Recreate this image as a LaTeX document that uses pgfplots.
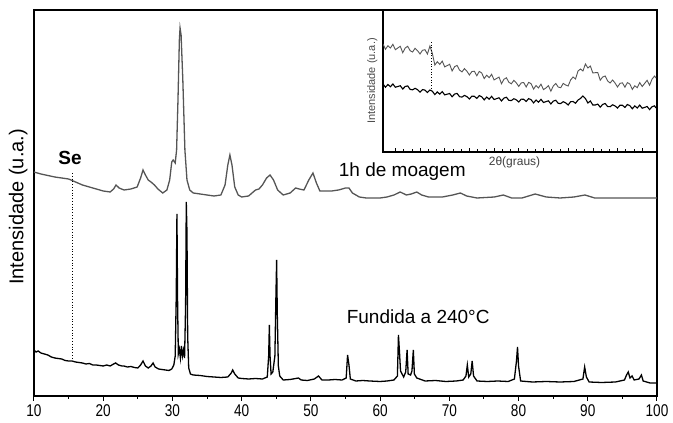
\documentclass[border=0pt]{standalone}
\usepackage{pgfplots}
\pgfplotsset{compat=1.18}
\usepackage{fontspec}
\setmainfont{Liberation Sans}
\newfontfamily\tickfont[FakeStretch=0.8]{Liberation Sans}
\definecolor{topgray}{HTML}{555555}
\begin{document}
\begin{tikzpicture}
\path[use as bounding box] (-34pt,-27pt) rectangle (639pt,396pt);
\begin{axis}[
  at={(0pt,0pt)}, anchor=south west,
  scale only axis, width=623pt, height=386pt,
  xmin=10, xmax=100, ymin=0, ymax=386,
  axis line style={line width=1.1pt},
  xtick={10,20,...,100}, minor tick num=1,
  xtick pos=bottom, tick align=outside,
  major tick length=5pt, minor tick length=3pt,
  every tick/.style={black, line width=1pt},
  ytick=\empty,
  xticklabel style={font=\tickfont\fontsize{17}{19}\selectfont, yshift=0pt},
  /pgf/number format/assume math mode=true,
  ylabel={Intensidade (u.a.)},
  ylabel style={font=\fontsize{20}{22}\selectfont, at={(axis description cs:0,0.49)}, anchor=south, yshift=3pt},
  clip=false,
]
% 1h de moagem (gray)
\addplot[topgray, line width=1.3pt] coordinates {
(10.0,224) (11.0,222) (12.0,220.5) (13.0,219) (14.0,218) (15.0,217) (16.0,214) (17.0,211) (18.0,209) (19.0,207)
(20.0,205) (21.0,204) (21.5,207) (21.85,211) (22.3,208) (23.0,206) (24.0,207) (24.9,209) (25.4,218) (25.75,226)
(26.1,221) (26.5,216) (26.9,214) (27.4,211) (27.9,207) (28.6,203) (29.2,206) (29.6,216) (29.9,234) (30.1,236)
(30.4,233) (30.6,246) (30.8,296) (31.0,356) (31.1,368) (31.25,361) (31.5,316) (31.8,246) (32.1,216) (32.5,206)
(33.0,203) (34.0,202) (35.0,201) (36.0,200) (37.0,201) (37.6,211) (38.0,231) (38.3,241) (38.6,231) (39.0,209)
(39.5,201) (40.0,199) (41.0,200) (42.0,206) (42.5,207) (43.0,211) (43.6,218) (44.1,221) (44.6,216) (45.2,206)
(46.0,201) (47.0,203) (47.8,208) (48.3,207) (49.0,206) (49.7,216) (50.3,223) (50.8,213) (51.3,205) (52.0,205)
(53.0,205) (54.0,206) (55.0,208) (55.5,208) (56.0,203) (57.0,199) (58.0,198) (60.0,198) (61.0,199) (62.0,201)
(62.9,204) (63.8,201) (64.5,202) (65.3,204) (66.0,201) (67.0,199) (69.0,199) (70.5,201) (71.6,203) (72.5,200)
(74.0,198) (76.5,199) (77.8,201) (79.0,198) (80.5,198) (82.4,202) (84.0,199) (86.0,198) (88.0,199) (89.6,201)
(91.0,198) (94.0,198) (97.0,198) (100.0,198)
};
% Fundida a 240 C (black)
\addplot[black, line width=1.3pt] coordinates {
(10.0,46) (10.3,44) (10.6,45) (11.0,43) (11.5,42) (12.0,41) (12.5,39) (13.0,38) (13.5,37.5) (14.0,37)
(14.5,35.5) (15.0,35) (15.5,35) (16.0,34) (16.5,33.5) (17.0,33) (17.5,32) (18.0,32.5) (18.5,31) (19.0,31)
(19.5,30.5) (20.0,30) (20.5,31) (21.0,30) (21.5,32) (21.8,33) (22.2,31) (22.7,30) (23.0,30) (23.5,29)
(24.0,29.5) (24.5,28.5) (25.0,28) (25.4,31) (25.75,35) (26.1,30) (26.5,28) (26.9,30) (27.2,33) (27.5,29)
(28.0,27) (28.5,26.5) (29.0,26) (29.5,25.5) (29.9,27) (30.2,31) (30.4,40) (30.55,100) (30.65,182) (30.75,90)
(30.85,42) (31.0,47) (31.15,38) (31.3,50) (31.45,40) (31.6,46) (31.75,38) (31.9,90) (32.0,194) (32.1,163)
(32.2,60) (32.35,28) (32.6,22) (33.0,21) (34.0,20.5) (35.0,19.5) (36.0,19) (37.0,18.5) (38.0,19) (38.5,23)
(38.7,26) (39.0,22) (39.5,18) (40.0,17.5) (41.0,17) (42.0,17.5) (43.0,17) (43.7,19) (43.9,40) (44.0,71)
(44.1,40) (44.25,22) (44.5,24) (44.8,40) (44.95,100) (45.05,136) (45.15,81) (45.3,30) (45.5,20) (46.0,16)
(47.0,16.5) (48.2,18) (48.6,16) (49.5,15.5) (50.5,17) (51.1,20) (51.6,16) (52.5,16) (53.5,16.5) (54.5,16)
(55.1,18) (55.3,41) (55.5,31) (55.7,17) (56.5,15) (57.5,15.5) (58.5,15) (60.0,14.5) (61.0,15) (62.0,16)
(62.5,20) (62.65,61) (62.8,44) (62.95,25) (63.4,19) (63.7,24) (63.9,46) (64.05,22) (64.4,21) (64.6,25)
(64.8,46) (64.95,22) (65.3,18) (66.5,15) (68.0,15.5) (69.5,14.5) (71.0,15) (72.0,16) (72.4,20) (72.6,31)
(72.8,19) (73.1,22) (73.3,35) (73.5,20) (74.0,15) (75.5,14.5) (77.0,15) (78.5,14.5) (79.4,17) (79.7,35)
(79.85,49) (80.0,30) (80.3,15) (82.0,14) (84.0,14.5) (86.0,14) (88.0,14.5) (89.3,17) (89.55,29) (89.8,19)
(90.2,14) (92.0,13.5) (94.0,14) (95.3,16) (95.6,21) (95.85,24) (96.1,18) (96.4,20) (96.7,16) (97.4,17)
(97.75,21) (98.0,15) (99.0,13) (100.0,13)
};
% Se marker line
\addplot[black, dotted, line width=0.8pt] coordinates {(15.5,223) (15.5,38)};
\node[font=\fontsize{19}{21}\selectfont\bfseries] at (axis cs:15.2,238) {Se};
\node[font=\fontsize{19}{21}\selectfont] at (axis cs:63.2,224) {1h de moagem};
\node[font=\fontsize{19}{21}\selectfont] at (axis cs:65.5,79) {Fundida a 240°C};
\end{axis}
\begin{axis}[
  at={(349pt,244pt)}, anchor=south west,
  scale only axis, width=274pt, height=142pt,
  xmin=13.5, xmax=24.6, ymin=0, ymax=142,
  axis background/.style={fill=white},
  axis line style={line width=1.1pt},
  xtick={14,15,...,24}, minor tick num=2,
  xtick pos=bottom, tick align=inside,
  major tick length=4pt, minor tick length=3pt,
  every tick/.style={black, line width=0.6pt},
  xticklabels={}, ytick=\empty,
  xlabel={2θ(graus)},
  xlabel style={font=\fontsize{12}{14}\selectfont, text=black!75, at={(axis description cs:0.48,0)}, anchor=north, yshift=-1pt},
  ylabel={Intensidade (u.a.)},
  ylabel style={font=\fontsize{11}{13}\selectfont, text=black!70, at={(axis description cs:0,0.5)}, anchor=south, yshift=2pt},
]
\addplot[topgray, line width=0.9pt] coordinates {
(13.5,108) (13.6,102.7) (13.7,106.3) (13.8,104) (13.9,107.7) (14.0,102.3) (14.1,104) (14.2,105.7) (14.3,99.3) (14.4,104)
(14.5,105.7) (14.6,101.3) (14.7,100) (14.8,103.7) (14.9,101.3) (15.0,98) (15.1,101.7) (15.2,102.3) (15.3,98) (15.4,106)
(15.5,98.5) (15.6,87) (15.7,90.3) (15.8,87.6) (15.9,90.9) (16.0,85.1) (16.1,86.4) (16.2,87.7) (16.3,81) (16.4,85.3)
(16.5,86.6) (16.6,81.9) (16.7,80.1) (16.8,83.4) (16.9,80.7) (17.0,77) (17.1,80.4) (17.2,80.8) (17.3,76.2) (17.4,80.6)
(17.5,79) (17.6,73.4) (17.7,76.8) (17.8,74.3) (17.9,77.7) (18.0,72.1) (18.1,73.5) (18.2,74.9) (18.3,68.3) (18.4,72.7)
(18.5,74.2) (18.6,69.7) (18.7,68.2) (18.8,71.6) (18.9,69.1) (19.0,65.6) (19.1,69.1) (19.2,69.5) (19.3,65) (19.4,69.6)
(19.5,68.3) (19.6,62.9) (19.7,66.5) (19.8,64.1) (19.9,67.8) (20.0,62.4) (20.1,64) (20.2,66.4) (20.3,60.8) (20.4,66.1)
(20.5,68.5) (20.6,64.9) (20.7,64.3) (20.8,68.6) (20.9,67) (21.0,66) (21.1,72) (21.2,75) (21.3,73) (21.4,81)
(21.5,83) (21.6,81) (21.7,88) (21.8,84) (21.9,86) (22.0,79) (22.1,79.3) (22.2,79.5) (22.3,71.8) (22.4,75)
(22.5,76) (22.6,71) (22.7,69) (22.8,72) (22.9,69) (23.0,65) (23.1,68.6) (23.2,69.2) (23.3,64.8) (23.4,69.4)
(23.5,68) (23.6,62.6) (23.7,66.2) (23.8,64.3) (23.9,69.4) (24.0,65.5) (24.1,68.6) (24.2,71.7) (24.3,66.8) (24.4,72.9)
(24.5,76) (24.56,74)
};
\addplot[black, line width=1.1pt] coordinates {
(13.5,68) (13.6,64.75) (13.7,67.5) (13.8,65.25) (13.9,68) (14.0,64.75) (14.1,65.5) (14.2,66.25) (14.3,63) (14.4,65.5)
(14.5,66.1) (14.6,62.6) (14.7,62.2) (14.8,63.7) (14.9,62.3) (15.0,59.8) (15.1,62.4) (15.2,61.9) (15.3,59.5) (15.4,62)
(15.5,60.7) (15.6,57.4) (15.7,60.1) (15.8,57.8) (15.9,60.4) (16.0,57.1) (16.1,57.8) (16.2,58.5) (16.3,55.2) (16.4,57.9)
(16.5,58.6) (16.6,55.3) (16.7,54.9) (16.8,56.6) (16.9,55.3) (17.0,53) (17.1,55.85) (17.2,55.7) (17.3,53.55) (17.4,56.4)
(17.5,55.25) (17.6,52.1) (17.7,54.95) (17.8,52.8) (17.9,55.65) (18.0,52.5) (18.1,53.35) (18.2,54.2) (18.3,51.05) (18.4,53.9)
(18.5,54.75) (18.6,51.6) (18.7,51.45) (18.8,53.3) (18.9,52.15) (19.0,50) (19.1,52.85) (19.2,52.7) (19.3,50.55) (19.4,53.4)
(19.5,52.25) (19.6,49.1) (19.7,51.95) (19.8,49.8) (19.9,52.65) (20.0,49.5) (20.1,50.35) (20.2,51.2) (20.3,48.05) (20.4,50.9)
(20.5,51.75) (20.6,48.6) (20.7,48.45) (20.8,50.3) (20.9,49.15) (21.0,47) (21.1,50.25) (21.2,50.5) (21.3,48.75) (21.4,52)
(21.5,53.5) (21.6,56) (21.7,53.5) (21.8,49) (21.9,51) (22.0,47) (22.1,47) (22.2,47.9) (22.3,44.8) (22.4,47.6)
(22.5,48.5) (22.6,45.4) (22.7,45.3) (22.8,47.2) (22.9,46.1) (23.0,43.95) (23.1,46.8) (23.2,46.7) (23.3,44.6) (23.4,47.5)
(23.5,46.35) (23.6,43.2) (23.7,46.1) (23.8,44) (23.9,46.9) (24.0,43.8) (24.1,44.6) (24.2,45.5) (24.3,42.4) (24.4,45.3)
(24.5,46.1) (24.56,44)
};
\addplot[black, dotted, line width=0.7pt] coordinates {(15.45,110) (15.45,62)};
\end{axis}
\end{tikzpicture}
\end{document}
